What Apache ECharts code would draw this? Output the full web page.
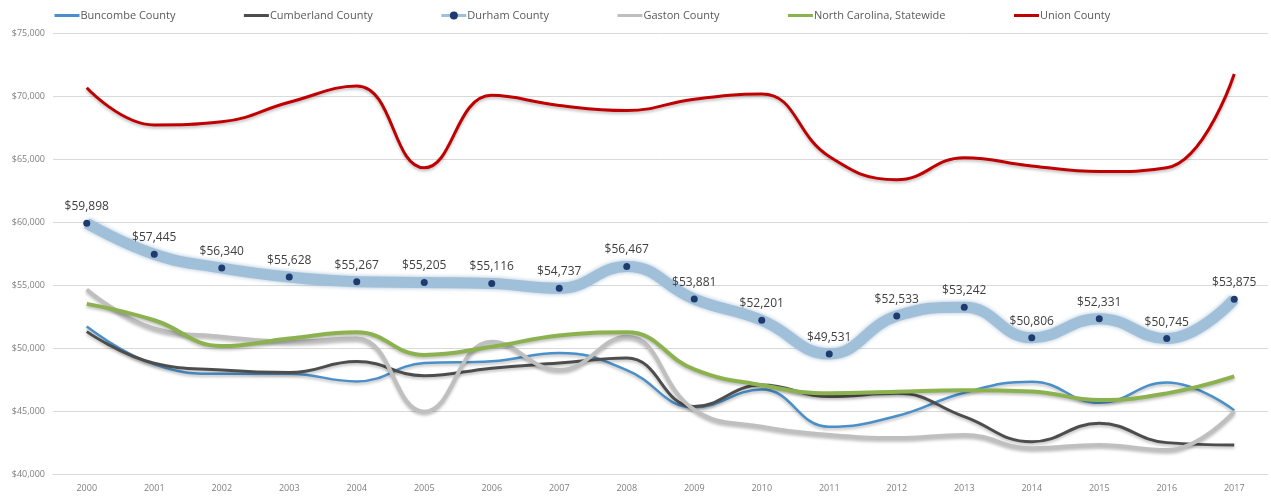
<!DOCTYPE html>
<html>
<head>
<meta charset="utf-8">
<script src="https://cdn.jsdelivr.net/npm/echarts@6/dist/echarts.min.js"></script>
<style>
    html, body { margin: 0; padding: 0; background: #fff; }
    #main { width: 1271px; height: 496px; }
</style>
</head>
<body>
<div id="main"></div>
<script>
    // years on the x axis
    var years = ['2000', '2001', '2002', '2003', '2004', '2005', '2006', '2007', '2008',
        '2009', '2010', '2011', '2012', '2013', '2014', '2015', '2016', '2017'];

    // median household income
    var buncombe = [51700, 48700, 47950, 47950, 47350, 48800, 48950, 49600, 48250,
        45300, 46700, 43750, 44600, 46450, 47330, 45650, 47270, 45050];
    var cumberland = [51300, 48790, 48250, 48050, 48920, 47800, 48400, 48800, 49200,
        45350, 47060, 46150, 46400, 44550, 42560, 44020, 42490, 42300];
    var durham = [59898, 57445, 56340, 55628, 55267, 55205, 55116, 54737, 56467,
        53881, 52201, 49531, 52533, 53242, 50806, 52331, 50745, 53875];
    var gaston = [54650, 51550, 50900, 50500, 50750, 44950, 50500, 48250, 50900,
        45100, 43750, 43100, 42850, 43100, 42050, 42300, 41900, 44950];
    var statewide = [53500, 52200, 50150, 50750, 51250, 49450, 50100, 51000, 51250,
        48300, 47050, 46400, 46530, 46650, 46550, 45870, 46400, 47750];
    var union = [70650, 67700, 67950, 69500, 70800, 64300, 70050, 69250, 68850,
        69750, 70150, 65200, 63350, 65100, 64450, 64000, 64300, 71750];

    var names = ['Buncombe County', 'Cumberland County', 'Durham County',
        'Gaston County', 'North Carolina, Statewide', 'Union County'];

    var fontName = '"Open Sans", "Noto Sans", sans-serif';

    function money(v) {
        return '$' + v.toLocaleString('en-US');
    }

    function plainLine(name, data, color, width) {
        return {
            name: name,
            type: 'line',
            data: data,
            smooth: 0.45,
            symbol: 'none',
            lineStyle: {
                color: color,
                width: width,
                shadowColor: 'rgba(0,0,0,0.25)',
                shadowBlur: 3,
                shadowOffsetY: 2
            },
            itemStyle: {color: color}
        };
    }

    // legend entry: just a line, no marker (Durham keeps its dot)
    function legendItem(name, withDot) {
        var item = {name: name, lineStyle: {width: 3}};
        if (!withDot) item.itemStyle = {opacity: 0};
        return item;
    }

    var myChart = echarts.init(document.getElementById('main'));
    var option = {
        backgroundColor: '#fff',
        animation: false,
        textStyle: {fontFamily: fontName},
        legend: {
            left: 53,
            top: 10,
            padding: 0,
            itemWidth: 25,
            itemHeight: 10,
            itemGap: 67,
            textStyle: {fontSize: 11, color: '#595959', fontFamily: fontName, padding: [0, 0, 0, -4]},
            data: [
                legendItem(names[0], false),
                legendItem(names[1], false),
                legendItem(names[2], true),
                legendItem(names[3], false),
                legendItem(names[4], false),
                legendItem(names[5], false)
            ]
        },
        grid: {left: 53, right: 3, top: 33, bottom: 22},
        xAxis: {
            type: 'category',
            data: years,
            boundaryGap: true,
            axisLine: {show: true, lineStyle: {color: '#d9d9d9'}},
            axisTick: {show: false},
            axisLabel: {fontSize: 9, color: '#7f7f7f', margin: 10}
        },
        yAxis: {
            type: 'value',
            min: 40000,
            max: 75000,
            interval: 5000,
            axisLine: {show: false},
            axisTick: {show: false},
            splitLine: {lineStyle: {color: '#d9d9d9', width: 1}},
            axisLabel: {
                fontSize: 9,
                color: '#7f7f7f',
                margin: 8,
                formatter: function (v) { return money(v); }
            }
        },
        series: [
            plainLine(names[0], buncombe, '#4a8fc9', 2.5),
            plainLine(names[1], cumberland, '#4d4d4d', 3),
            {
                name: names[2],
                type: 'line',
                data: durham,
                smooth: 0.45,
                symbol: 'circle',
                symbolSize: 7,
                lineStyle: {
                    color: '#a0bfd8',
                    width: 11,
                    shadowColor: 'rgba(110,150,185,0.6)',
                    shadowBlur: 4
                },
                itemStyle: {color: '#1f3a6e'},
                label: {
                    show: true,
                    position: 'top',
                    distance: 7,
                    fontSize: 12,
                    color: '#404040',
                    fontFamily: fontName,
                    formatter: function (p) { return money(p.value); }
                }
            },
            plainLine(names[3], gaston, '#bfbfbf', 4),
            plainLine(names[4], statewide, '#8cb250', 4),
            plainLine(names[5], union, '#c00000', 3)
        ]
    };
    myChart.setOption(option);
</script>
</body>
</html>
